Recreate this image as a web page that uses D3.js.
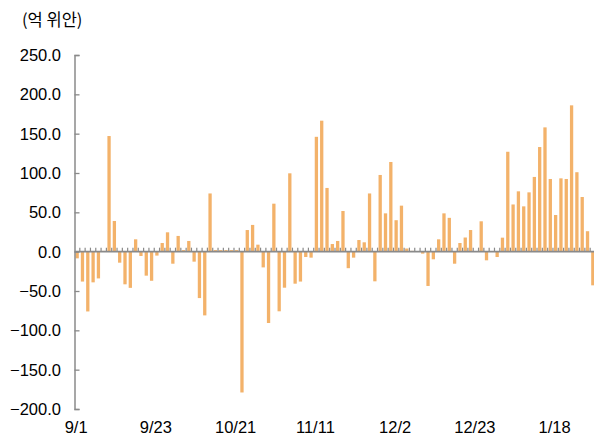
<!DOCTYPE html>
<html>
<head>
<meta charset="utf-8">
<script src="https://cdn.jsdelivr.net/npm/d3@7"></script>
<style>
  body { margin: 0; background: #fff; }
  svg text { font-family: "Liberation Sans", Arial, sans-serif; fill: #000; }
</style>
</head>
<body>
<div id="chart"></div>
<script>
const values = [
  -8.5, -38, -76, -39, -34, 1, 147, 39, -14, -41.5,
  -46, 15.7, -5.5, -30.5, -37, -5, 11, 24.6, -15.3, 20,
  2, 13.6, -12.7, -59, -81, 74, 2, 2, 2, 2,
  2, -179, 27.5, 34, 8.9, -20, -90.7, 61, -75.8, -45.8,
  99.6, -40.7, -38, -6.8, -7.6, 146, 166.5, 81, 9.7, 13.6,
  51.7, -21, -7.6, 14.8, 11.9, 74, -37.7, 97.5, 48.7, 114,
  40, 58.5, 4, 1, 0, -2.5, -43.6, -9.7, 15.7, 48.7,
  43, -15.3, 11, 18, 27.5, 0.5, 38.6, -11, 0.5, -6.8,
  17.8, 127, 60, 76.7, 57.6, 75.4, 95, 133, 158, 92.4,
  46.6, 93.2, 92.4, 186, 101, 69.5, 26, -42.8
];
const tickIndex = [0, 15, 30, 45, 60, 75, 90];
const tickLabels = ["9/1", "9/23", "10/21", "11/11", "12/2", "12/23", "1/18"];
const yTicks = [250, 200, 150, 100, 50, 0, -50, -100, -150, -200];
const unitLabel = "(억 위안)";

const width = 594;
const height = 437;
const left = 74.5;
const right = 595.5;

const svg = d3.select("#chart").append("svg")
  .attr("width", width)
  .attr("height", height);

const x = d3.scaleBand()
  .domain(d3.range(values.length))
  .range([left, right])
  .paddingInner(0.38)
  .paddingOuter(0.19);

const y = d3.scaleLinear().domain([-200, 250]).range([409, 55]);

// bars
svg.append("g")
  .selectAll("rect")
  .data(values)
  .join("rect")
  .attr("x", (d, i) => x(i))
  .attr("width", x.bandwidth())
  .attr("y", d => y(Math.max(0, d)))
  .attr("height", d => Math.abs(y(d) - y(0)))
  .attr("fill", "#f3b26a");

// y axis
const yAxis = svg.append("g")
  .attr("transform", `translate(${left},0)`)
  .call(d3.axisRight(y).tickValues(yTicks).tickSize(5).tickFormat(""));
yAxis.select(".domain").attr("stroke", "#8a8a8a").attr("stroke-width", 1.5);
yAxis.selectAll(".tick line").attr("stroke", "#8a8a8a").attr("stroke-width", 1.3);

svg.append("g")
  .selectAll("text")
  .data(yTicks)
  .join("text")
  .attr("x", 61)
  .attr("y", d => y(d))
  .attr("dy", "0.36em")
  .attr("text-anchor", "end")
  .attr("font-size", 16.5)
  .text(d => d3.format(".1f")(d).replace("-", "\u2212"));

// zero line with category ticks
const step = x.step();
const bounds = d3.range(values.length + 1).map(i => left + i * step);
const zero = svg.append("g");
zero.selectAll("line.cat")
  .data(bounds.slice(1))
  .join("line")
  .attr("class", "cat")
  .attr("x1", d => d).attr("x2", d => d)
  .attr("y1", y(0) - 4).attr("y2", y(0))
  .attr("stroke", "#8a8a8a").attr("stroke-width", 1.2);
zero.append("line")
  .attr("x1", left).attr("x2", right)
  .attr("y1", y(0)).attr("y2", y(0))
  .attr("stroke", "#8a8a8a").attr("stroke-width", 1.6);

// x labels
svg.append("g")
  .selectAll("text")
  .data(tickIndex)
  .join("text")
  .attr("x", d => x(d) + x.bandwidth() / 2 - 1)
  .attr("y", 433)
  .attr("text-anchor", "middle")
  .attr("font-size", 16.5)
  .text((d, i) => tickLabels[i]);

// unit label
svg.append("text")
  .attr("x", 22)
  .attr("y", 26)
  .attr("font-size", 16.5)
  .style("font-family", "'Noto Sans CJK KR', sans-serif")
  .text(unitLabel);
</script>
</body>
</html>
